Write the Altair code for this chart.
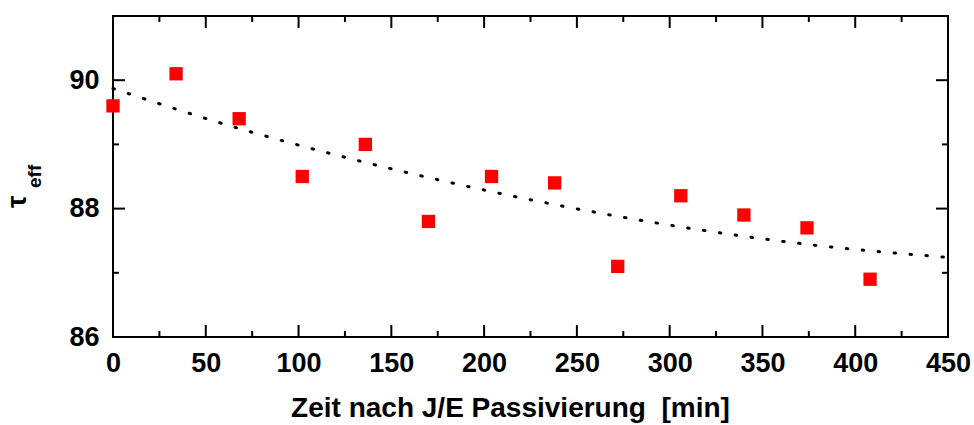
import altair as alt
import pandas as pd

# measured data (red squares)
time_min = [0, 34, 68, 102, 136, 170, 204, 238, 272, 306, 340, 374, 408]
tau_eff = [89.6, 90.1, 89.4, 88.5, 89.0, 87.8, 88.5, 88.4, 87.1, 88.2, 87.9, 87.7, 86.9]

# dotted fit curve
fit_x = [0, 70, 105, 175, 235, 305, 375, 450]
fit_y = [89.87, 89.23, 88.95, 88.45, 88.08, 87.72, 87.44, 87.24]

# ticks
x_major = [0, 50, 100, 150, 200, 250, 300, 350, 400, 450]
x_minor = [25, 75, 125, 175, 225, 275, 325, 375, 425]
y_major = [86, 88, 90]
y_minor = [87, 89]

x_title = ["Zeit nach J/E Passivierung\u00a0\u00a0[min]"]
y_title_main = ["τ"]
y_title_sub = ["eff"]

W, H = 835, 321
FONT = "Liberation Sans"

xs = alt.Scale(domain=[0, 450], nice=False, zero=False)
ys = alt.Scale(domain=[86, 91], nice=False, zero=False)

axis_style = dict(
    title=None, labelFont=FONT, labelFontWeight="bold", labelFontSize=27, labelColor="black",
    domain=False, ticks=False, grid=False, labelOverlap=False,
)
ax_x = alt.Axis(values=x_major, labelPadding=13, labelFlush=False, **axis_style)
ax_y = alt.Axis(values=y_major, labelPadding=14, **axis_style)

pts_df = pd.DataFrame({"t": time_min, "tau": tau_eff})
fit_df = pd.DataFrame({"t": fit_x, "tau": fit_y})

fit = alt.Chart(fit_df).mark_line(
    color="black", strokeWidth=3, strokeDash=[1.5, 14.5], strokeCap="round",
    interpolate="monotone",
).encode(
    x=alt.X("t:Q", scale=xs, axis=ax_x),
    y=alt.Y("tau:Q", scale=ys, axis=ax_y),
)

pts = alt.Chart(pts_df).mark_square(size=177, color="#ff0000", opacity=1).encode(
    x=alt.X("t:Q", scale=xs, axis=ax_x),
    y=alt.Y("tau:Q", scale=ys, axis=ax_y),
)


def xticks(vals, length):
    df = pd.DataFrame({"t": vals})
    bottom = alt.Chart(df).mark_rule(color="black", strokeWidth=2).encode(
        x=alt.X("t:Q", scale=xs, axis=ax_x), y=alt.value(H), y2=alt.value(H - length))
    top = alt.Chart(df).mark_rule(color="black", strokeWidth=2).encode(
        x=alt.X("t:Q", scale=xs, axis=ax_x), y=alt.value(0), y2=alt.value(length))
    return [bottom, top]


def yticks(vals, length):
    df = pd.DataFrame({"tau": vals})
    left = alt.Chart(df).mark_rule(color="black", strokeWidth=2).encode(
        y=alt.Y("tau:Q", scale=ys, axis=ax_y), x=alt.value(0), x2=alt.value(length))
    right = alt.Chart(df).mark_rule(color="black", strokeWidth=2).encode(
        y=alt.Y("tau:Q", scale=ys, axis=ax_y), x=alt.value(W), x2=alt.value(W - length))
    return [left, right]


ticks = xticks(x_major, 12) + xticks(x_minor, 6) + yticks(y_major, 12) + yticks(y_minor, 6)

xt = alt.Chart(pd.DataFrame({"s": x_title})).mark_text(
    font=FONT, fontWeight="bold", fontSize=28, color="black", align="center", baseline="alphabetic"
).encode(text="s:N", x=alt.value(397.5), y=alt.value(401))

yt1 = alt.Chart(pd.DataFrame({"s": y_title_main})).mark_text(
    font=FONT, fontWeight="bold", fontSize=28, color="black", align="left",
    baseline="alphabetic", angle=270
).encode(text="s:N", x=alt.value(-87), y=alt.value(192))

yt2 = alt.Chart(pd.DataFrame({"s": y_title_sub})).mark_text(
    font=FONT, fontWeight="bold", fontSize=19, color="black", align="left",
    baseline="alphabetic", angle=270
).encode(text="s:N", x=alt.value(-72), y=alt.value(172))

chart = alt.layer(fit, *ticks, pts, xt, yt1, yt2).properties(
    width=W, height=H,
    background="white",
    autosize=alt.AutoSizeParams(type="none"),
    padding={"left": 113, "top": 16, "right": 26, "bottom": 88},
).configure_view(
    stroke="black", strokeWidth=2
)

chart.save("out.html", embed_options={"renderer": "svg", "actions": False})
